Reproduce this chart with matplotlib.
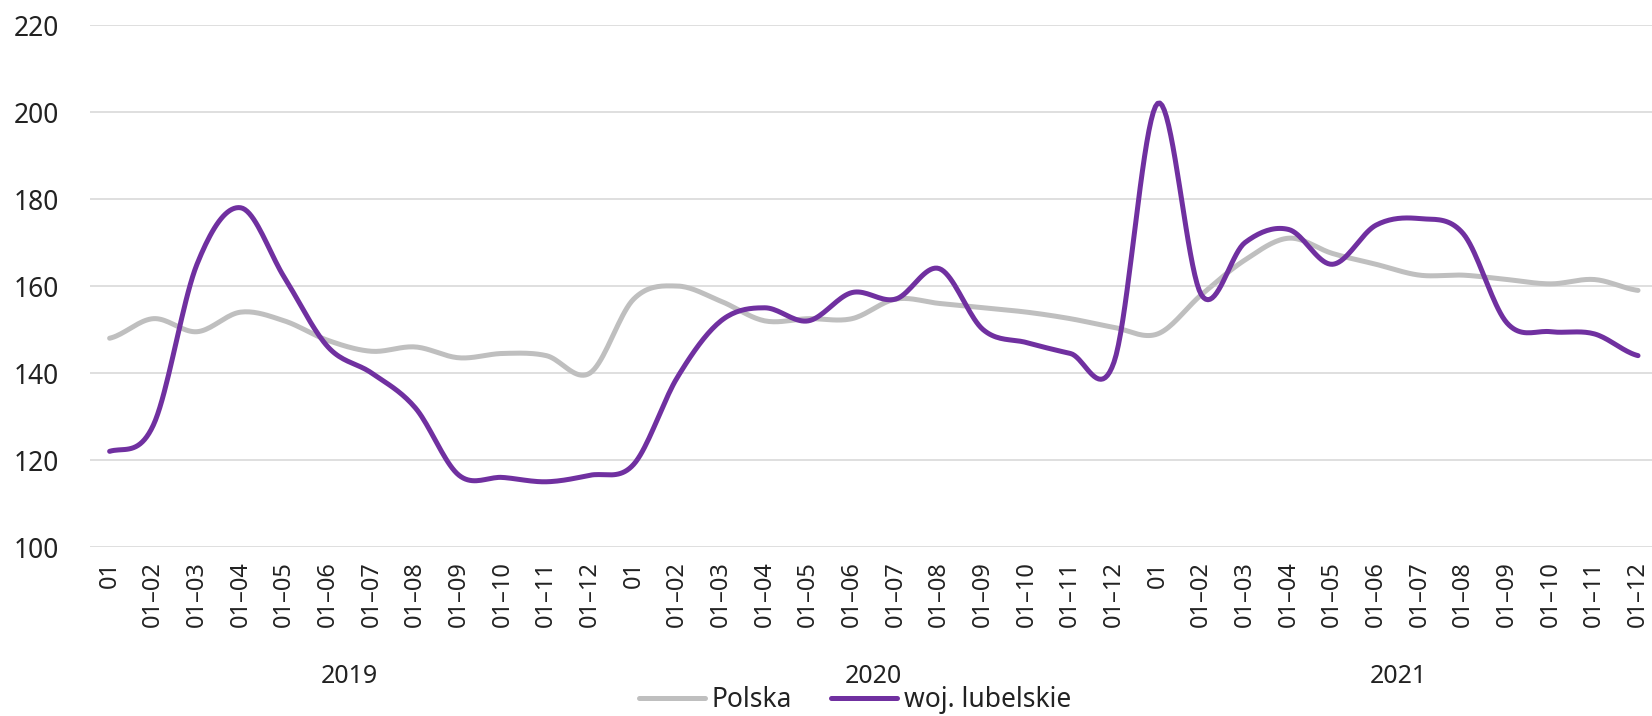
import matplotlib
matplotlib.use("Agg")
import matplotlib.pyplot as plt
import numpy as np

plt.rcParams['font.family'] = ['Noto Sans', 'DejaVu Sans']

years = ["2019", "2020", "2021"]
months = ["01"] + ["01\u2013%02d" % m for m in range(2, 13)]
tick_labels = months * len(years)

polska = [148, 152.5, 149.5, 154, 152, 147.5, 145, 146, 143.5, 144.5, 144, 140,
          157, 160, 156.5, 152, 152.5, 152.5, 157, 156, 155, 154, 152.5, 150.5,
          149, 158, 166, 171, 167.5, 165, 162.5, 162.5, 161.5, 160.5, 161.5, 159]
lubelskie = [122, 128, 165, 178, 162, 146, 140, 132, 116.5, 116, 115, 116.5,
             119, 139, 152, 155, 152, 158.5, 157, 164, 150, 147, 144.5, 142.5,
             202, 158, 170, 173, 165, 174, 175.5, 172, 151.5, 149.5, 149, 144]


def smooth(y, steps=20):
    # Catmull-Rom curve through the points, like a "smoothed line" in Excel
    y = np.asarray(y, dtype=float)
    p = np.concatenate([[y[0]], y, [y[-1]]])
    xs, ys = [], []
    t = np.linspace(0, 1, steps, endpoint=False)
    for i in range(len(y) - 1):
        p0, p1, p2, p3 = p[i], p[i + 1], p[i + 2], p[i + 3]
        c = 0.5 * ((2 * p1) + (-p0 + p2) * t + (2 * p0 - 5 * p1 + 4 * p2 - p3) * t**2
                   + (-p0 + 3 * p1 - 3 * p2 + p3) * t**3)
        xs.append(i + t)
        ys.append(c)
    xs.append([len(y) - 1])
    ys.append([y[-1]])
    return np.concatenate(xs), np.concatenate(ys)


fig = plt.figure(figsize=(16.52, 7.16), dpi=100)
ax = fig.add_axes([0.0542, 0.236, 0.9458, 0.729])

x1, y1 = smooth(polska)
x2, y2 = smooth(lubelskie)
ax.plot(x1, y1, color="#BFBFBF", lw=3.6, label="Polska", solid_capstyle="round")
ax.plot(x2, y2, color="#7030A0", lw=3.6, label="woj. lubelskie", solid_capstyle="round")

ax.set_ylim(100, 220)
ax.set_yticks(range(100, 221, 20))
ax.set_xlim(-0.46, 35.32)
ax.set_xticks(range(len(tick_labels)))
ax.set_xticklabels(tick_labels, rotation=90, fontsize=17, color="#222222")
ax.tick_params(axis="y", labelsize=19, labelcolor="#222222", length=0, pad=22)
ax.tick_params(axis="x", length=0, pad=10)
ax.grid(axis="y", color="#D9D9D9", lw=1.2)
ax.set_axisbelow(True)
for s in ax.spines.values():
    s.set_visible(False)

for k, yr in enumerate(years):
    ax.text(k * 12 + 5.5, -0.249, yr, transform=ax.get_xaxis_transform(),
            ha="center", va="center", fontsize=18, color="#222222")

ax.legend(loc="center", bbox_to_anchor=(0.49, -0.293), ncol=2, frameon=False,
          fontsize=19, handlelength=2.5, handletextpad=0.25, columnspacing=1.5,
          labelcolor="#222222")

fig.savefig("out.png", dpi=100)
